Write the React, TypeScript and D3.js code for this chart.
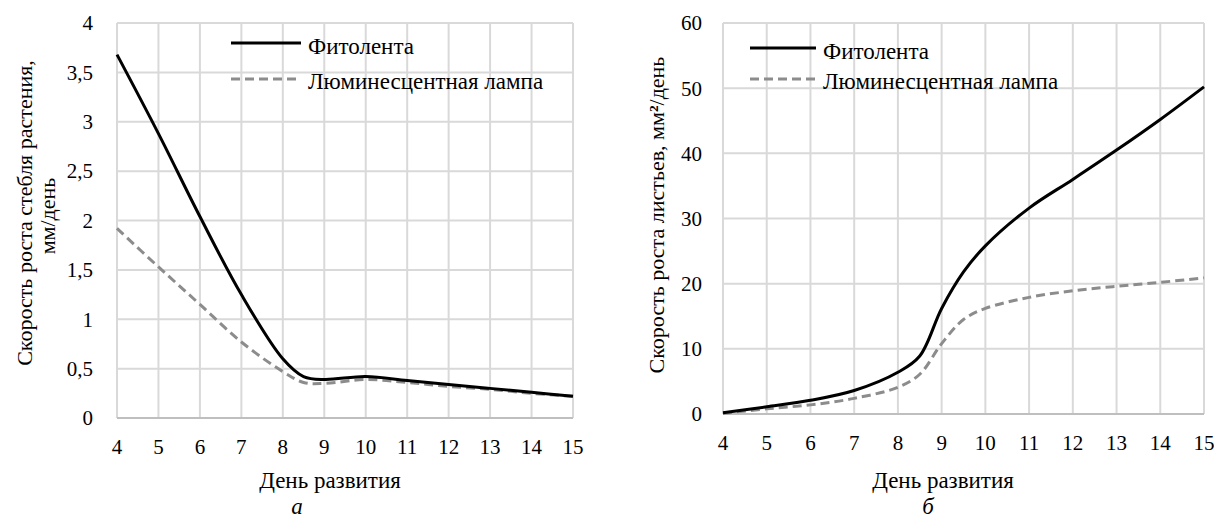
import React from "react";
import * as d3 from "d3";

const xDays = [4, 5, 6, 7, 8, 9, 10, 11, 12, 13, 14, 15];
const stemDays = [4, 5, 6, 7, 8, 8.5, 9, 10, 11, 12, 13, 14, 15];
const stemPhyto = [3.68, 2.88, 2.04, 1.25, 0.6, 0.42, 0.39, 0.42, 0.38, 0.34, 0.3, 0.26, 0.22];
const stemLamp = [1.92, 1.53, 1.15, 0.77, 0.47, 0.36, 0.35, 0.39, 0.36, 0.32, 0.29, 0.25, 0.22];
const leafDays = [4, 5, 6, 7, 8, 8.5, 9, 9.5, 10, 11, 12, 13, 14, 15];
const leafPhyto = [0.2, 1.1, 2.1, 3.6, 6.4, 8.9, 16.2, 21.8, 25.8, 31.6, 36, 40.5, 45.2, 50.2];
const leafLamp = [0.1, 0.8, 1.4, 2.4, 4.1, 6.1, 10.8, 14.5, 16.2, 17.9, 18.9, 19.6, 20.2, 20.9];
const stemTicks = [0, 0.5, 1, 1.5, 2, 2.5, 3, 3.5, 4];
const leafTicks = [0, 10, 20, 30, 40, 50, 60];
const seriesNames = ["Фитолента", "Люминесцентная лампа"];
const xTitle = "День развития";

const FONT = "'Liberation Serif', 'DejaVu Serif', serif";
const fmt = (v: number) => String(v).replace(".", ",");

type PanelProps = {
  x0: number; x1: number; yTop: number; yBottom: number;
  yMax: number; ticks: number[];
  sx: number[]; phyto: number[]; lamp: number[];
  curve: d3.CurveFactory;
  legendX: number; legendY1: number; legendY2: number; legendLen: number;
  yTitle: { text: React.ReactNode; x: number; y: number }[];
  labelRight: number; xLabelY: number;
  xTitleX: number; caption: string; captionX: number;
};

function Panel(p: PanelProps) {
  const x = d3.scaleLinear().domain([4, 15]).range([p.x0, p.x1]);
  const y = d3.scaleLinear().domain([0, p.yMax]).range([p.yBottom, p.yTop]);
  const line = d3
    .line<number>()
    .x((_, i) => x(p.sx[i]))
    .y((d) => y(d))
    .curve(p.curve);
  const grid = "#d9d9d9";
  return (
    <g fill="#000">
      {p.ticks.map((t) => (
        <line key={"h" + t} x1={p.x0} x2={p.x1} y1={y(t)} y2={y(t)} stroke={grid} strokeWidth={2} />
      ))}
      {xDays.map((d) => (
        <line key={"v" + d} x1={x(d)} x2={x(d)} y1={p.yTop} y2={p.yBottom} stroke={grid} strokeWidth={2} />
      ))}
      <line x1={p.x0} x2={p.x1} y1={p.yBottom} y2={p.yBottom} stroke="#bfbfbf" strokeWidth={2} />
      {p.ticks.map((t) => (
        <text key={"yl" + t} fontFamily={FONT} x={p.labelRight} y={y(t)} dy="0.35em" textAnchor="end" fontSize={21}>
          {fmt(t)}
        </text>
      ))}
      {xDays.map((d) => (
        <text key={"xl" + d} fontFamily={FONT} x={x(d)} y={p.xLabelY} dy="0.35em" textAnchor="middle" fontSize={21}>
          {d}
        </text>
      ))}
      <path d={line(p.lamp) || ""} fill="none" stroke="#8c8c8c" strokeWidth={3} strokeDasharray="9,5" />
      <path d={line(p.phyto) || ""} fill="none" stroke="#000" strokeWidth={3} />
      <line x1={p.legendX} x2={p.legendX + p.legendLen} y1={p.legendY1} y2={p.legendY1} stroke="#000" strokeWidth={3} />
      <line x1={p.legendX} x2={p.legendX + p.legendLen} y1={p.legendY2} y2={p.legendY2} stroke="#8c8c8c" strokeWidth={3} strokeDasharray="9,5" />
      <text fontFamily={FONT} x={p.legendX + p.legendLen + 7} y={p.legendY1 + 3} dy="0.35em" fontSize={23}>{seriesNames[0]}</text>
      <text fontFamily={FONT} x={p.legendX + p.legendLen + 7} y={p.legendY2 + 2} dy="0.35em" fontSize={23}>{seriesNames[1]}</text>
      {p.yTitle.map((t, i) => (
        <text key={"yt" + i} fontFamily={FONT} transform={`translate(${t.x},${t.y}) rotate(-90)`} textAnchor="middle" dy="0.35em" fontSize={22}>
          {t.text}
        </text>
      ))}
      <text fontFamily={FONT} x={p.xTitleX} y={480} dy="0.35em" textAnchor="middle" fontSize={23}>{xTitle}</text>
      <text fontFamily={FONT} x={p.captionX} y={506} dy="0.35em" textAnchor="middle" fontSize={23} fontStyle="italic">{p.caption}</text>
    </g>
  );
}

export default function App() {
  return (
    <svg width={1214} height={518} style={{ position: "absolute", left: 0, top: 0, background: "#fff" }}>
      <rect width={1214} height={518} fill="#fff" />
      <Panel
        x0={117} x1={573} yTop={23} yBottom={418} yMax={4} ticks={stemTicks}
        sx={stemDays} phyto={stemPhyto} lamp={stemLamp}
        curve={d3.curveCatmullRom.alpha(0.5)}
        legendX={231} legendY1={43} legendY2={79} legendLen={70}
        yTitle={[
          { text: "Скорость роста стебля растения,", x: 24, y: 213 },
          { text: "мм/день", x: 47, y: 216 },
        ]}
        labelRight={93} xLabelY={447}
        xTitleX={330} caption="а" captionX={297}
      />
      <Panel
        x0={723} x1={1204} yTop={23} yBottom={414} yMax={60} ticks={leafTicks}
        sx={leafDays} phyto={leafPhyto} lamp={leafLamp}
        curve={d3.curveCatmullRom.alpha(0.5)}
        legendX={750} legendY1={48} legendY2={79} legendLen={66}
        yTitle={[
          { text: <>Скорость роста листьев, мм<tspan fontWeight="bold">²</tspan>/день</>, x: 656, y: 215 },
        ]}
        labelRight={702} xLabelY={443}
        xTitleX={943} caption="б" captionX={928}
      />
    </svg>
  );
}
